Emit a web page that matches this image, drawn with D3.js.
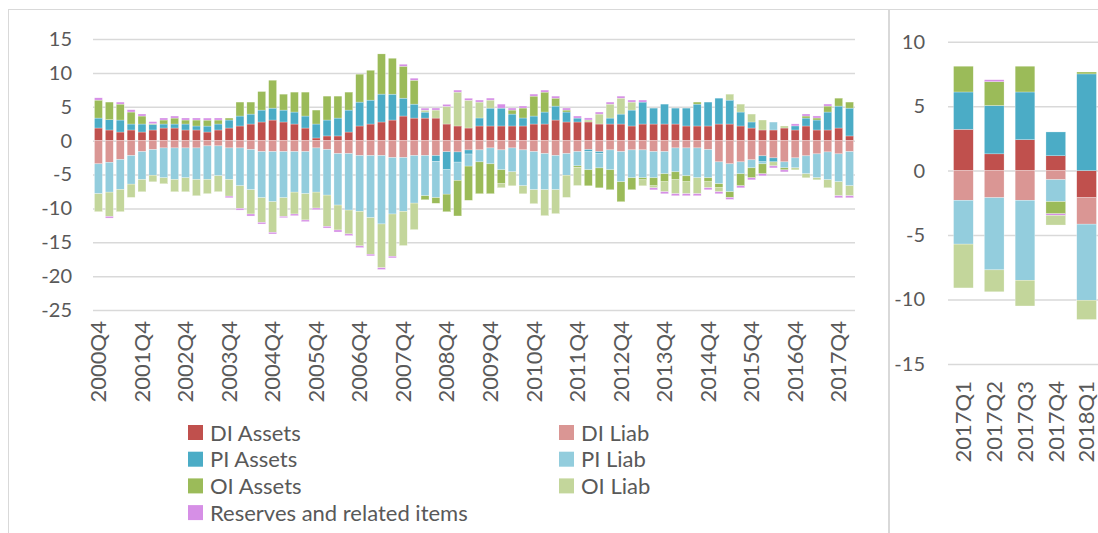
<!DOCTYPE html>
<html>
<head>
<meta charset="utf-8">
<script src="https://cdn.jsdelivr.net/npm/d3@7"></script>
<style>
  body { margin: 0; background: #fff; }
  text { font-family: Lato, "Open Sans", sans-serif; fill: #595959; }
</style>
</head>
<body>
<script>
const width = 1098;
const height = 533;

// left panel: quarterly flows 2000Q4 - 2018Q1
const quarters = [
  "2000Q4","2001Q1","2001Q2","2001Q3","2001Q4","2002Q1","2002Q2","2002Q3","2002Q4",
  "2003Q1","2003Q2","2003Q3","2003Q4","2004Q1","2004Q2","2004Q3","2004Q4",
  "2005Q1","2005Q2","2005Q3","2005Q4","2006Q1","2006Q2","2006Q3","2006Q4",
  "2007Q1","2007Q2","2007Q3","2007Q4","2008Q1","2008Q2","2008Q3","2008Q4",
  "2009Q1","2009Q2","2009Q3","2009Q4","2010Q1","2010Q2","2010Q3","2010Q4",
  "2011Q1","2011Q2","2011Q3","2011Q4","2012Q1","2012Q2","2012Q3","2012Q4",
  "2013Q1","2013Q2","2013Q3","2013Q4","2014Q1","2014Q2","2014Q3","2014Q4",
  "2015Q1","2015Q2","2015Q3","2015Q4","2016Q1","2016Q2","2016Q3","2016Q4",
  "2017Q1","2017Q2","2017Q3","2017Q4","2018Q1"
];

const diAssets = [1.86,1.57,1.27,1.57,1.27,1.57,1.86,1.86,1.57,1.57,1.27,1.57,1.86,2.16,2.45,2.75,3.04,
  2.75,2.45,1.86,0.39,0.69,0.69,1.27,2.16,2.45,2.75,3.04,3.63,3.33,3.33,3.33,2.45,
  2.16,1.86,2.16,2.16,2.16,2.16,2.16,2.45,2.45,3.04,2.75,2.75,2.75,2.45,2.45,2.45,
  2.16,2.45,2.45,2.45,2.45,2.16,2.16,2.16,2.45,2.45,2.16,1.86,1.57,1.57,1.86,1.57,
  2.16,1.57,1.57,1.86,0.69];
const diLiab = [-3.43,-3.19,-2.79,-2.2,-1.62,-1.32,-1.08,-1.08,-1.08,-1.08,-0.78,-0.78,-1.08,-1.08,-1.32,-1.62,-1.62,
  -1.62,-1.62,-1.62,-1.08,-1.32,-1.91,-1.91,-2.2,-2.2,-2.2,-2.5,-2.5,-2.2,-2.2,-2.2,-1.65,
  -1.67,-1.38,-1.37,-1.08,-1.37,-1.08,-1.37,-1.62,-1.91,-2.2,-1.91,-1.62,-1.32,-1.62,-1.37,-1.62,
  -1.37,-1.37,-1.62,-1.62,-1.08,-1.08,-1.08,-1.32,-3.14,-3.43,-3.14,-2.84,-2.25,-2.55,-3.14,-2.55,
  -2.25,-1.96,-1.67,-1.96,-1.62];
const piAssets = [1.47,1.52,1.77,0.88,1.18,0.83,0.59,0.59,0.88,0.59,0.88,0.88,1.18,1.47,1.47,1.76,1.76,
  1.76,1.77,1.77,2.06,2.35,2.64,3.24,3.53,3.53,4.12,3.82,2.64,2.06,0.88,-0.88,-2.65,
  -1.5,-0.6,1.18,2.64,2.64,1.76,1.18,1.18,1.77,2.06,1.47,0.58,-0.3,-0.3,0.88,1.47,
  2.35,3.24,2.35,2.94,2.35,2.64,3.23,3.53,3.82,3.53,2.06,0.89,-0.88,-0.59,0,0.6,
  1.17,1.47,2.65,3.24,4.11];
const piLiab = [-4.41,-4.41,-4.41,-4.22,-4.12,-3.78,-4.41,-4.66,-4.41,-4.66,-4.95,-4.41,-4.66,-5.59,-5.93,-6.81,-7.4,
  -6.81,-5.98,-6.22,-6.52,-6.72,-7.6,-8.34,-8.24,-9.17,-10.1,-8.33,-7.94,-7.02,-5.94,-5.34,-3.6,
  -2.7,-1.78,-1.77,-2.35,-2.94,-3.53,-5.3,-5.63,-5.34,-5.05,-3.19,-2.11,-2.69,-2.11,-2.94,-4.46,
  -4.12,-4.12,-3.87,-3.28,-3.53,-4.12,-4.41,-4.17,-3.23,-4.12,-1.76,-1.18,-0.3,1.17,-0.88,-1.47,
  -2.65,-3.53,-4.11,-4.12,-5.05];
const oiAssets = [2.65,2.6,2.35,1.77,1.18,0.1,0.59,0.88,0.59,0.88,0.88,0.59,0.29,2.06,1.77,2.74,4.12,
  2.35,2.94,3.53,2.06,3.53,3.24,2.65,4.12,4.41,5.93,5.3,4.71,3.53,-0.59,-0.83,-2.6,
  -5.25,-5.05,-4.7,-4.41,-2.06,0.59,1.47,2.94,2.94,1.17,0.29,-0.2,-2.36,-2.94,-2.94,-2.94,
  -1.76,-0.3,-1.18,-1.18,-1.17,-0.88,0.3,-0.59,-0.59,-0.83,-1.77,-1.47,-1.47,0,-0.3,0,
  0.3,0.3,0.88,1.17,0.89];
const oiLiab = [-2.65,-3.58,-3.29,-1.96,-1.81,-0.98,-0.88,-1.81,-2.06,-2.4,-2.1,-2.35,-2.45,-3.33,-3.58,-3.63,-4.51,
  -2.75,-3.23,-3.87,-2.35,-4.61,-3.68,-3.52,-5.1,-5.39,-6.47,-6.23,-5.05,-3.92,0.29,1.18,2.6,
  5.0,4.1,2.35,1.18,-0.59,-2.06,-1.18,-2.06,-3.83,-3.53,-3.28,-2.7,0.3,1.47,2.06,2.35,
  1.18,-0.88,-0.3,-1.47,-2.06,-1.76,-2.35,-0.88,-0.59,0.88,1.17,1.17,1.47,-0.59,0.3,-0.3,
  -0.59,-0.3,-1.18,-2.06,-1.47];
const reserves = [0.34,-0.25,0.3,0.34,0.3,0.3,0.3,0.3,0.3,0.3,0.3,0.3,-0.25,-0.25,-0.3,-0.25,-0.25,
  -0.2,-0.25,-0.25,-0.25,-0.25,-0.3,-0.25,-0.25,-0.25,-0.25,-0.25,0.3,0.3,0.3,0.3,0.3,
  0.3,0.3,0.3,0.3,0.59,0.3,0.3,0.3,0.3,0.3,0.3,0.3,0.3,0.3,0.3,0.3,
  0.3,0.3,-0.3,-0.3,-0.3,-0.3,-0.3,-0.3,-0.3,-0.3,-0.3,-0.3,-0.3,-0.3,-0.3,0.3,
  0.3,0.3,0.3,-0.3,-0.3];

// right panel: 2017Q1 - 2018Q1
const quartersR = ["2017Q1","2017Q2","2017Q3","2017Q4","2018Q1"];
const diAssetsR = [3.2, 1.3, 2.4, 1.15, -2.1];
const diLiabR   = [-2.3, -2.1, -2.3, -0.7, -2.05];
const piAssetsR = [2.9, 3.75, 3.7, 1.85, 7.5];
const piLiabR   = [-3.4, -5.6, -6.2, -1.7, -5.9];
const oiAssetsR = [2.0, 1.85, 2.0, -0.95, 0.15];
const oiLiabR   = [-3.4, -1.7, -2.0, -0.75, -1.5];
const reservesR = [0, 0.15, 0, -0.12, 0];

const yTicksLeft = [15, 10, 5, 0, -5, -10, -15, -20, -25];
const yTicksRight = [10, 5, 0, -5, -10, -15];

const names = ["DI Assets","DI Liab","PI Assets","PI Liab","OI Assets","OI Liab","Reserves and related items"];
const colors = ["#c0504d","#da9694","#4bacc6","#93cddd","#9bbb59","#c3d69b","#d68fe6"];
const color = d3.scaleOrdinal().domain(names).range(colors);

const rows = quarters.map((q, i) => ({
  q,
  "DI Assets": diAssets[i], "DI Liab": diLiab[i],
  "PI Assets": piAssets[i], "PI Liab": piLiab[i],
  "OI Assets": oiAssets[i], "OI Liab": oiLiab[i],
  "Reserves and related items": reserves[i]
}));
const rowsR = quartersR.map((q, i) => ({
  q,
  "DI Assets": diAssetsR[i], "DI Liab": diLiabR[i],
  "PI Assets": piAssetsR[i], "PI Liab": piLiabR[i],
  "OI Assets": oiAssetsR[i], "OI Liab": oiLiabR[i],
  "Reserves and related items": reservesR[i]
}));

const svg = d3.select("body").append("svg")
  .attr("width", width).attr("height", height);

// chart frames
svg.append("rect").attr("x", 8.5).attr("y", 9.5).attr("width", 880).attr("height", 600)
  .attr("fill", "none").attr("stroke", "#d9d9d9");
svg.append("rect").attr("x", 889.5).attr("y", 9.5).attr("width", 300).attr("height", 600)
  .attr("fill", "none").attr("stroke", "#d9d9d9");

function panel(data, keys, cats, xRange, yDomain, yRange, ticks, pad, padding, labelY) {
  const x = d3.scaleBand().domain(cats).range(xRange).paddingInner(padding).paddingOuter(padding / 2);
  const y = d3.scaleLinear().domain(yDomain).range(yRange);

  svg.append("g")
    .attr("transform", `translate(${xRange[0]},0)`)
    .call(d3.axisLeft(y).tickValues(ticks).tickFormat(d => String(d))
      .tickSize(-(xRange[1] - xRange[0])).tickPadding(pad))
    .call(g => g.select(".domain").remove())
    .call(g => g.selectAll("line").attr("stroke", "#d9d9d9").attr("stroke-width", 1.5))
    .call(g => g.selectAll("text").attr("font-size", 20).style("fill", "#595959")
      .style("font-family", "Lato, 'Open Sans', sans-serif"));

  const series = d3.stack().keys(keys).offset(d3.stackOffsetDiverging)(data);

  svg.append("g")
    .selectAll("g")
    .data(series)
    .join("g")
      .attr("fill", d => color(d.key))
    .selectAll("rect")
    .data(d => d)
    .join("rect")
      .attr("x", d => x(d.data.q))
      .attr("width", x.bandwidth())
      .attr("y", d => y(d[1]))
      .attr("height", d => Math.max(0, y(d[0]) - y(d[1])))
      .attr("stroke", "#fff").attr("stroke-width", 0.4).attr("stroke-opacity", 0.7);

  const shown = cats.length > 10 ? cats.filter((d, i) => i % 4 === 0) : cats;
  svg.append("g")
    .attr("transform", `translate(0,${labelY})`)
    .call(d3.axisBottom(x).tickValues(shown).tickSize(0).tickPadding(0))
    .call(g => g.select(".domain").remove())
    .call(g => g.selectAll("text")
      .attr("transform", "rotate(-90)")
      .attr("text-anchor", "end")
      .attr("x", 0).attr("y", 0).attr("dy", "0.35em")
      .attr("font-size", 22).style("fill", "#595959")
      .style("font-family", "Lato, 'Open Sans', sans-serif"));
}

panel(rows, names, quarters, [93, 855], [-25, 15], [310, 39], yTicksLeft, 21, 0.27, 321);

const keysR = ["DI Assets","DI Liab","PI Assets","PI Liab","OI Assets","Reserves and related items","OI Liab"];
panel(rowsR, keysR, quartersR, [948, 1102], [-15, 10], [364, 41.7], yTicksRight, 23, 0.36, 381);

// legend, two columns
const legend = svg.append("g");
const legendItems = names.map((n, i) => ({
  n, col: i === 6 ? 0 : i % 2, row: i === 6 ? 3 : Math.floor(i / 2)
}));
const li = legend.selectAll("g").data(legendItems).join("g")
  .attr("transform", d => `translate(${d.col ? 559 : 188},${432 + d.row * 26.7})`);
li.append("rect").attr("x", 0).attr("y", -7).attr("width", 15).attr("height", 15)
  .attr("fill", d => color(d.n));
li.append("text").attr("x", 22).attr("y", 1).attr("dy", "0.35em")
  .attr("font-size", 22).text(d => d.n);
</script>
</body>
</html>
